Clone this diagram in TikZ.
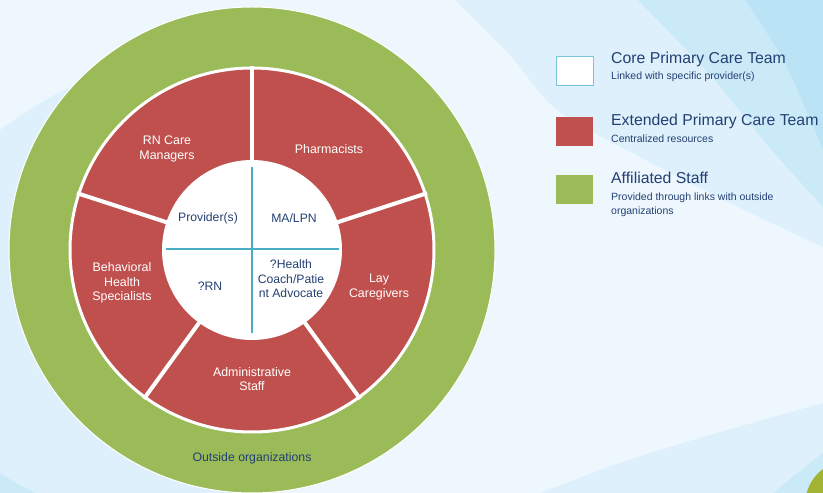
\documentclass[tikz,border=0pt]{standalone}
\usepackage{fontspec}
\setmainfont{Liberation Sans}
\usetikzlibrary{positioning}

\definecolor{ringred}{RGB}{192,80,77}
\definecolor{ringgreen}{RGB}{155,187,89}
\definecolor{navy}{RGB}{36,64,115}
\definecolor{crossblue}{RGB}{75,172,198}
\definecolor{boxedge}{RGB}{120,195,222}
\definecolor{bglight}{RGB}{237,247,253}
\definecolor{bgmid}{RGB}{221,240,251}
\definecolor{bgdeep}{RGB}{203,234,248}
\definecolor{bgdeeper}{RGB}{187,227,246}
\definecolor{dotgreen}{RGB}{160,180,50}

\tikzset{
  seglabel/.style={text=white, align=center, font=\fontsize{12.4}{14.5}\selectfont},
  corelabel/.style={text=navy, align=center, font=\fontsize{12.2}{14.5}\selectfont},
  gap/.style={white, line width=4pt},
  legbox/.style={minimum width=37pt, minimum height=29pt, inner sep=0pt, anchor=north west},
  legtitle/.style={text=navy, anchor=base west, inner sep=0pt, font=\fontsize{15.8}{18}\selectfont},
  legsub/.style={text=navy, anchor=base west, inner sep=0pt, align=left, font=\fontsize{10.5}{14}\selectfont},
}

\begin{document}
\begin{tikzpicture}[x=1pt,y=1pt]
   \clip (0,0) rectangle (823,493);

   % backdrop swooshes
   \fill[bglight] (0,0) rectangle (823,493);
   \fill[bgmid] (0,363) .. controls (40,393) and (90,420) .. (160,440) -- (252,440) -- (252,0) -- (0,0) -- cycle;
   \fill[bgmid] plot[smooth] coordinates {(455,493) (510,438) (557,383) (640,336) (730,290) (823,246)} -- (823,493) -- cycle;
   \fill[bgdeep] plot[smooth] coordinates {(638,493) (675,455) (717,410) (770,345) (823,286)} -- (823,493) -- cycle;
   \fill[bgdeeper] plot[smooth] coordinates {(745,493) (785,430) (823,343)} -- (823,493) -- cycle;
   \fill[bgmid] plot[smooth] coordinates {(540,0) (620,30) (700,55) (823,90)} -- (823,0) -- cycle;
   \fill[bgdeep] plot[smooth] coordinates {(773,0) (800,22) (823,40)} -- (823,0) -- cycle;
   \fill[bgdeep] (0,20) .. controls (15,10) and (25,5) .. (35,0) -- (0,0) -- cycle;
   \fill[dotgreen] (850,-12) circle (45pt);

   % rings
   \coordinate (O) at (252,243);
   \filldraw[fill=ringgreen, draw=white, line width=1pt] (O) circle (243pt);
   \filldraw[fill=ringred, draw=white, line width=3pt] (O) circle (182pt);
   \begin{scope}[shift={(O)}]
      \draw[gap] (18:86) -- (18:184);
      \draw[gap] (90:86) -- (90:184);
      \draw[gap] (162:86) -- (162:184);
      \draw[gap] (234:86) -- (234:184);
      \draw[gap] (306:86) -- (306:184);
   \end{scope}
   \fill[white] (O) circle (90pt);

   % quadrants of the core team
   \coordinate (vtop) at (252,326);
   \coordinate (vbot) at (252,160);
   \coordinate (hleft) at (166,244);
   \coordinate (hright) at (339,244);
   \draw[crossblue, line width=1.2pt] (vtop) -- (vbot);
   \draw[crossblue, line width=1.2pt] (hleft) -- (hright);

   \node[corelabel] (prov) at (208,275) {Provider(s)};
   \node[corelabel] (malpn) at (294,275) {MA/LPN};
   \node[corelabel] (qrn) at (210,207) {?RN};
   \node[corelabel] (hcoach) at (291,214) {?Health\\Coach/Patie\\nt Advocate};

   % extended team segments
   \node[seglabel] (rncare) at (167,344) {RN Care\\Managers};
   \node[seglabel] (pharm) at (329,344) {Pharmacists};
   \node[seglabel] (behav) at (122,210) {Behavioral\\Health\\Specialists};
   \node[seglabel] (lay) at (379,206) {Lay\\Caregivers};
   \node[seglabel] (admin) at (252,114) {Administrative\\Staff};

   \node[corelabel, font=\fontsize{12.3}{14.5}\selectfont] (outside) at (252,35) {Outside organizations};

   % key
   \node[legbox, fill=white, draw=boxedge, line width=1pt] (corebox) at (556,437) {};
   \node[legbox, fill=ringred] (extbox) at (556,376) {};
   \node[legbox, fill=ringgreen] (affbox) at (556,318) {};

   \node[legtitle] (coretitle) at (611,429.5) {Core Primary Care Team};
   \node[legsub] (coresub) at (611,413.5) {Linked with specific provider(s)};
   \node[legtitle] (exttitle) at (611,367.5) {Extended Primary Care Team};
   \node[legsub] (extsub) at (611,350.5) {Centralized resources};
   \node[legtitle] (afftitle) at (611,309) {Affiliated Staff};
   \node[legsub] (affsub) at (611,278.5) {Provided through links with outside\\organizations};
\end{tikzpicture}
\end{document}
